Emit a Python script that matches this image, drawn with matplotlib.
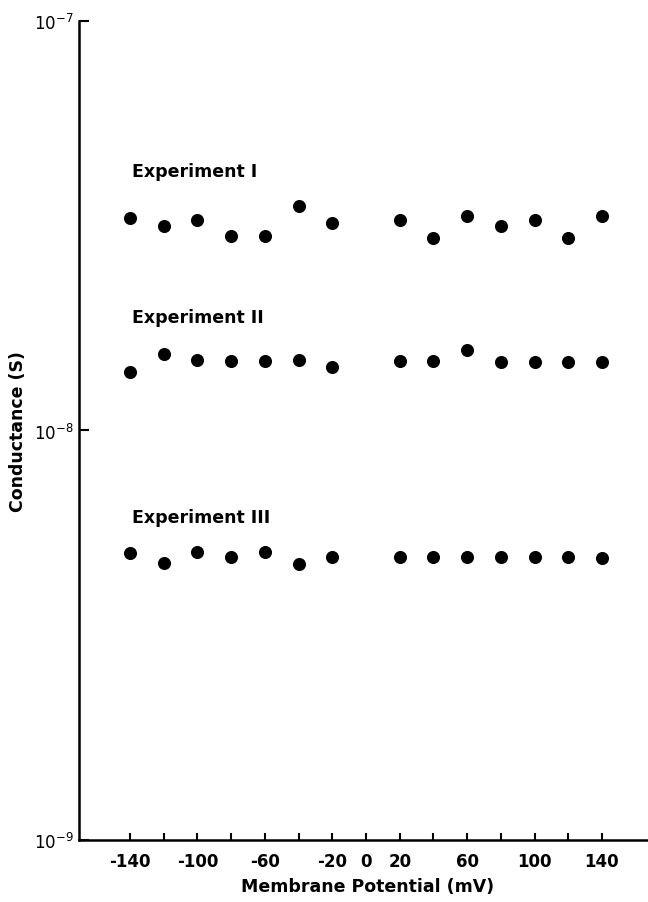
import matplotlib
matplotlib.use("Agg")
import matplotlib.pyplot as plt
import numpy as np

potential = [-140, -120, -100, -80, -60, -40, -20, 20, 40, 60, 80, 100, 120, 140]
exp1 = [3.30e-8, 3.16e-8, 3.26e-8, 2.99e-8, 2.98e-8, 3.54e-8, 3.21e-8,
        3.26e-8, 2.95e-8, 3.35e-8, 3.15e-8, 3.27e-8, 2.95e-8, 3.35e-8]
exp2 = [1.387e-8, 1.537e-8, 1.487e-8, 1.481e-8, 1.481e-8, 1.487e-8, 1.427e-8,
        1.478e-8, 1.475e-8, 1.573e-8, 1.472e-8, 1.467e-8, 1.467e-8, 1.467e-8]
exp3 = [5.03e-9, 4.75e-9, 5.04e-9, 4.91e-9, 5.05e-9, 4.72e-9, 4.90e-9,
        4.90e-9, 4.90e-9, 4.90e-9, 4.90e-9, 4.90e-9, 4.90e-9, 4.89e-9]
series_labels = ["Experiment I", "Experiment II", "Experiment III"]
label_y = [4.30e-8, 1.89e-8, 6.15e-9]
xticks = list(range(-140, 141, 20))
xticklabels = ["-140", "", "-100", "", "-60", "", "-20", "0", "20", "", "60", "", "100", "", "140"]
yticks = [1e-9, 1e-8, 1e-7]
yticklabels = [r"$10^{-9}$", r"$10^{-8}$", r"$10^{-7}$"]

fig = plt.figure(figsize=(6.48, 9.03), dpi=100)
ax = fig.add_axes([0.122, 0.0687, 0.878, 0.9069])
for ys in (exp1, exp2, exp3):
    ax.plot(potential, ys, 'o', color='black', markersize=8.4, clip_on=False)
for lab, ly in zip(series_labels, label_y):
    ax.text(-139, ly, lab, fontsize=12.5, fontweight='bold', ha='left', va='center')

ax.set_yscale('log')
ax.set_ylim(1e-9, 1e-7)
ax.set_xlim(-170.2, 167.3)
ax.set_yticks(yticks)
ax.set_yticklabels(yticklabels, fontsize=12)
ax.yaxis.set_minor_locator(matplotlib.ticker.NullLocator())
ax.set_xticks(xticks)
ax.set_xticklabels(xticklabels, fontsize=12, fontweight='bold')
ax.tick_params(axis='x', direction='in', length=5, width=1.5, pad=9)
ax.tick_params(axis='y', direction='in', length=7, width=1.5, pad=4)
for s in ('top', 'right'):
    ax.spines[s].set_visible(False)
for s in ('left', 'bottom'):
    ax.spines[s].set_linewidth(1.8)
fig.text(368 / 648, 1 - 887 / 903, "Membrane Potential (mV)", fontsize=12.5,
         fontweight='bold', ha='center', va='center')
fig.text(18 / 648, 1 - 432 / 903, "Conductance (S)", fontsize=12.5,
         fontweight='bold', ha='center', va='center', rotation=90)
fig.savefig("out.png", dpi=100)
